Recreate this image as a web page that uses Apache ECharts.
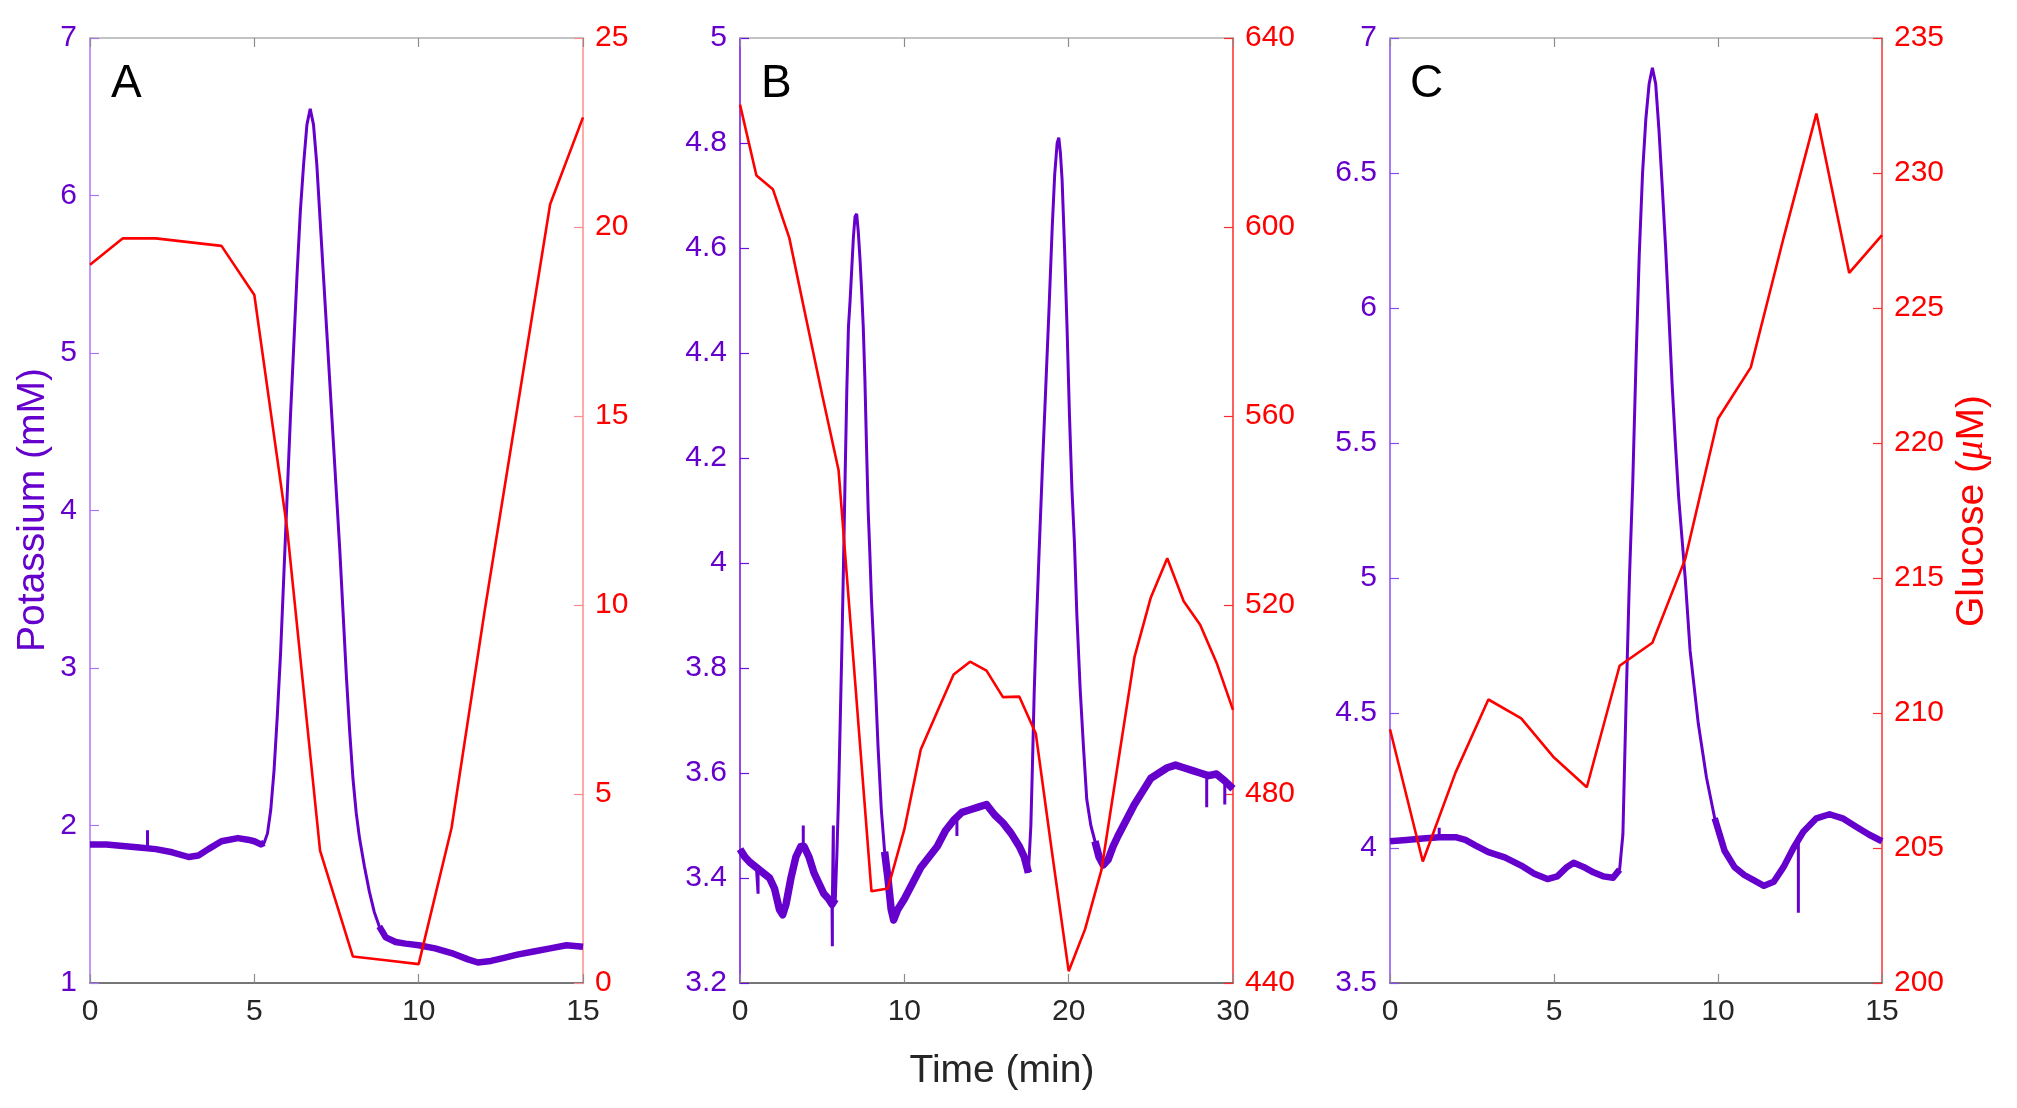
<!DOCTYPE html>
<html><head><meta charset="utf-8">
<script src="https://cdn.jsdelivr.net/npm/echarts@6/dist/echarts.min.js"></script>
<style>html,body{margin:0;padding:0;background:#fff}#c{width:2017px;height:1108px}</style>
</head><body><div id="c"></div>
<script>
const FONT = '"Liberation Sans", Arial, sans-serif';
const PURPLE = '#6600cc';
const RED = '#ff0000';

// ---------- Panel A ----------
const potassiumA = [[0,1.88],[0.5,1.88],[1,1.87],[1.5,1.86],[2,1.85],[2.5,1.83],[3,1.80],[3.3,1.81],[3.6,1.85],[4,1.90],[4.5,1.92],[4.8,1.91],[5,1.90],[5.2,1.88],[5.3,1.89],[5.4,1.95],[5.5,2.10],[5.6,2.35],[5.7,2.70],[5.8,3.10],[5.9,3.60],[6,4.10],[6.1,4.60],[6.2,5.05],[6.3,5.50],[6.4,5.90],[6.5,6.20],[6.6,6.45],[6.7,6.55],[6.8,6.45],[6.9,6.20],[7,5.85],[7.1,5.50],[7.2,5.15],[7.3,4.80],[7.4,4.45],[7.5,4.10],[7.6,3.75],[7.7,3.35],[7.8,2.95],[7.9,2.60],[8,2.30],[8.1,2.08],[8.2,1.92],[8.35,1.74],[8.5,1.58],[8.65,1.45],[8.8,1.36],[9,1.29],[9.3,1.26],[9.6,1.25],[10,1.24],[10.5,1.22],[11,1.19],[11.5,1.15],[11.8,1.13],[12.2,1.14],[12.6,1.16],[13,1.18],[13.5,1.20],[14,1.22],[14.5,1.24],[15,1.23]];
const spikesA = [[1.75,1.86,1.97],[8.95,1.29,1.33]];
const bandWindowsA = [[0,5.3],[8.8,15]];
const glucoseTimeA = [0,1,2,3,4,5,6,7,8,9,10,11,12,13,14,15];
const glucoseA = [19.0,19.7,19.7,19.6,19.5,18.2,12.0,3.5,0.7,0.6,0.5,4.1,9.8,15.2,20.6,22.9];

// ---------- Panel B ----------
const potassiumB = [[0,3.455],[0.3,3.44],[0.6,3.43],[1,3.42],[1.4,3.41],[1.8,3.40],[2.1,3.38],[2.4,3.34],[2.6,3.33],[2.8,3.35],[3.1,3.40],[3.4,3.44],[3.7,3.46],[3.9,3.46],[4.2,3.44],[4.5,3.41],[4.8,3.39],[5.1,3.37],[5.4,3.36],[5.6,3.35],[5.8,3.36],[5.9,3.45],[6,3.56],[6.1,3.70],[6.2,3.84],[6.3,4.00],[6.4,4.17],[6.5,4.33],[6.6,4.45],[6.7,4.50],[6.8,4.56],[6.9,4.62],[7,4.66],[7.1,4.665],[7.2,4.63],[7.3,4.58],[7.4,4.52],[7.5,4.45],[7.6,4.35],[7.7,4.22],[7.8,4.10],[7.9,4.02],[8,3.93],[8.2,3.80],[8.4,3.65],[8.6,3.53],[8.8,3.45],[9,3.40],[9.2,3.34],[9.35,3.32],[9.6,3.34],[10,3.36],[10.5,3.39],[11,3.42],[11.5,3.44],[12,3.46],[12.5,3.49],[13,3.51],[13.5,3.525],[14,3.53],[14.5,3.535],[15,3.54],[15.5,3.52],[16,3.505],[16.5,3.485],[17,3.46],[17.3,3.44],[17.55,3.41],[17.7,3.50],[17.8,3.62],[17.9,3.75],[18,3.85],[18.2,4.02],[18.4,4.18],[18.6,4.33],[18.8,4.48],[19,4.64],[19.15,4.74],[19.3,4.80],[19.4,4.81],[19.5,4.78],[19.6,4.73],[19.75,4.60],[19.9,4.45],[20.05,4.28],[20.2,4.14],[20.35,4.04],[20.5,3.90],[20.7,3.76],[20.9,3.65],[21.1,3.55],[21.35,3.50],[21.6,3.47],[21.85,3.44],[22.1,3.425],[22.4,3.435],[22.7,3.46],[23,3.48],[23.5,3.51],[24,3.54],[24.5,3.565],[25,3.59],[25.5,3.60],[26,3.61],[26.5,3.615],[27,3.61],[27.5,3.605],[28,3.60],[28.5,3.595],[29,3.598],[29.5,3.585],[30,3.57]];
const spikesB = [[1.1,3.42,3.37],[3.85,3.46,3.50],[5.62,3.35,3.27],[5.68,3.35,3.50],[13.2,3.51,3.48],[28.4,3.595,3.535],[29.5,3.585,3.54]];
const bandWindowsB = [[0,5.8],[8.8,17.55],[21.6,30]];
const glucoseTimeB = [0,1,2,3,4,5,6,7,8,9,10,11,12,13,14,15,16,17,18,19,20,21,22,23,24,25,26,27,28,29,30];
const glucoseB = [625.9,610.9,608.0,597.7,581.0,564.5,548.5,504.0,459.4,460.0,472.5,489.4,497.4,505.3,508.0,506.1,500.5,500.6,492.8,467.3,442.5,451.4,464.0,486.5,508.9,521.6,529.9,520.8,515.8,507.8,497.8];

// ---------- Panel C ----------
const potassiumC = [[0,4.025],[0.5,4.03],[1,4.035],[1.5,4.04],[2,4.04],[2.3,4.03],[2.6,4.01],[3,3.985],[3.5,3.965],[4,3.935],[4.4,3.905],[4.8,3.885],[5.1,3.895],[5.4,3.93],[5.6,3.945],[5.9,3.93],[6.2,3.91],[6.5,3.895],[6.8,3.89],[7,3.92],[7.1,4.05],[7.2,4.55],[7.3,5.0],[7.4,5.35],[7.5,5.8],[7.6,6.2],[7.7,6.5],[7.8,6.7],[7.9,6.83],[8,6.89],[8.1,6.83],[8.2,6.66],[8.3,6.45],[8.4,6.23],[8.5,5.98],[8.6,5.72],[8.7,5.5],[8.8,5.3],[8.9,5.15],[9,5.0],[9.15,4.73],[9.4,4.46],[9.65,4.26],[9.9,4.11],[10.2,3.99],[10.5,3.93],[10.8,3.90],[11.1,3.88],[11.4,3.86],[11.7,3.875],[12,3.93],[12.3,4.00],[12.6,4.06],[13,4.11],[13.4,4.125],[13.8,4.11],[14.2,4.08],[14.6,4.05],[15,4.025]];
const spikesC = [[1.5,4.04,4.075],[12.45,4.04,3.76]];
const bandWindowsC = [[0,7.0],[9.9,15]];
const glucoseTimeC = [0,1,2,3,4,5,6,7,8,9,10,11,12,13,14,15];
const glucoseC = [209.4,204.5,207.8,210.5,209.8,208.35,207.25,211.75,212.6,215.7,220.9,222.8,227.6,232.2,226.3,227.7];

// ---------- helpers ----------
function thinLine(base, spikes) {
  const out = [];
  const sp = spikes.slice().sort((a,b)=>a[0]-b[0]);
  let j = 0;
  for (let i = 0; i < base.length; i++) {
    while (j < sp.length && sp[j][0] < base[i][0]) {
      out.push([sp[j][0], sp[j][1]], [sp[j][0], sp[j][2]], [sp[j][0], sp[j][1]]);
      j++;
    }
    out.push(base[i]);
  }
  return out;
}
function bandLine(base, windows) {
  const out = [];
  windows.forEach((w, k) => {
    if (k > 0) out.push([ (windows[k-1][1]+w[0])/2, null ]);
    base.forEach(p => { if (p[0] >= w[0] && p[0] <= w[1]) out.push(p); });
  });
  return out;
}
function zip(t, v) { return t.map((x, i) => [x, v[i]]); }
const fmt = v => String(+v.toFixed(1));

const panels = [
  {left:90, width:493, xmax:15, xint:5, ymin:1, ymax:7, yint:1, gmin:0, gmax:25, gint:5,
   k:potassiumA, s:spikesA, w:bandWindowsA, gt:glucoseTimeA, g:glucoseA, lcol:'#a878f2', rcol:'#ff8c8c', band:6.5},
  {left:740, width:493, xmax:30, xint:10, ymin:3.2, ymax:5, yint:0.2, gmin:440, gmax:640, gint:40,
   k:potassiumB, s:spikesB, w:bandWindowsB, gt:glucoseTimeB, g:glucoseB, lcol:'#6a10dd', rcol:'#ff2a2a', band:7.5},
  {left:1390, width:492, xmax:15, xint:5, ymin:3.5, ymax:7, yint:0.5, gmin:200, gmax:235, gint:5,
   k:potassiumC, s:spikesC, w:bandWindowsC, gt:glucoseTimeC, g:glucoseC, lcol:'#8a4cee', rcol:'#ff3030', band:6.5}
];

const grid = [], xAxis = [], yAxis = [], series = [];
panels.forEach((p, i) => {
  grid.push({left:p.left, top:38, width:p.width, height:945, containLabel:false});
  xAxis.push({type:'value', gridIndex:i, position:'bottom', min:0, max:p.xmax, interval:p.xint,
    axisLine:{onZero:false, lineStyle:{color:'#4a4a4a', width:1.5}},
    axisTick:{inside:true, length:9, lineStyle:{color:'#8c8c8c', width:1.2}},
    axisLabel:{color:'#262626', fontSize:30, fontFamily:FONT, margin:14},
    splitLine:{show:false}});
  xAxis.push({type:'value', gridIndex:i, position:'top', min:0, max:p.xmax, interval:p.xint,
    axisLine:{onZero:false, lineStyle:{color:'#b0b0b0', width:1.5}},
    axisTick:{inside:true, length:9, lineStyle:{color:'#8c8c8c', width:1.2}},
    axisLabel:{show:false}, splitLine:{show:false}});
  yAxis.push({type:'value', gridIndex:i, position:'left', min:p.ymin, max:p.ymax, interval:p.yint,
    axisLine:{show:true, onZero:false, lineStyle:{color:p.lcol, width:1.5}},
    axisTick:{show:true, inside:true, length:9, lineStyle:{color:p.lcol, width:1.2}},
    axisLabel:{color:PURPLE, fontSize:30, fontFamily:FONT, margin:13, formatter:fmt},
    splitLine:{show:false}});
  yAxis.push({type:'value', gridIndex:i, position:'right', min:p.gmin, max:p.gmax, interval:p.gint,
    axisLine:{show:true, onZero:false, lineStyle:{color:p.rcol, width:1.5}},
    axisTick:{show:true, inside:true, length:9, lineStyle:{color:p.rcol, width:1.2}},
    axisLabel:{color:RED, fontSize:30, fontFamily:FONT, margin:12},
    splitLine:{show:false}});
  series.push({type:'line', xAxisIndex:2*i, yAxisIndex:2*i, data:bandLine(p.k, p.w), showSymbol:false,
    connectNulls:false, lineStyle:{color:PURPLE, width:p.band, join:'round', cap:'butt'}, z:2, silent:true});
  series.push({type:'line', xAxisIndex:2*i, yAxisIndex:2*i, data:thinLine(p.k, p.s), showSymbol:false,
    lineStyle:{color:PURPLE, width:3}, z:3, silent:true});
  series.push({type:'line', xAxisIndex:2*i, yAxisIndex:2*i+1, data:zip(p.gt, p.g), showSymbol:false,
    lineStyle:{color:RED, width:2.6}, z:4, silent:true});
});

const graphic = [
  {type:'text', x:111, y:84, style:{text:'A', font:'46px '+FONT, fill:'#000', align:'left', verticalAlign:'middle', textAlign:'left', textVerticalAlign:'middle'}},
  {type:'text', x:761, y:84, style:{text:'B', font:'46px '+FONT, fill:'#000', align:'left', verticalAlign:'middle', textAlign:'left', textVerticalAlign:'middle'}},
  {type:'text', x:1410, y:84, style:{text:'C', font:'46px '+FONT, fill:'#000', align:'left', verticalAlign:'middle', textAlign:'left', textVerticalAlign:'middle'}},
  {type:'text', x:33, y:510, rotation:Math.PI/2, style:{text:'Potassium (mM)', font:'39px '+FONT, fill:PURPLE, align:'center', verticalAlign:'middle', textAlign:'center', textVerticalAlign:'middle'}},
  {type:'text', x:1972, y:511, rotation:Math.PI/2, style:{text:'{n|Glucose (}{i|μ}{n|M)}', align:'center', verticalAlign:'middle', textAlign:'center', textVerticalAlign:'middle',
    rich:{n:{fontSize:39, fontFamily:FONT, fill:RED, color:RED}, i:{fontSize:39, fontFamily:'"Liberation Serif", serif', fontStyle:'italic', fill:RED, color:RED}}}},
  {type:'text', x:1002, y:1071, style:{text:'Time (min)', font:'39px '+FONT, fill:'#262626', align:'center', verticalAlign:'middle', textAlign:'center', textVerticalAlign:'middle'}}
];

const chart = echarts.init(document.getElementById('c'), null, {renderer:'canvas'});
chart.setOption({animation:false, backgroundColor:'#ffffff', grid, xAxis, yAxis, series, graphic});
</script>
</body></html>
